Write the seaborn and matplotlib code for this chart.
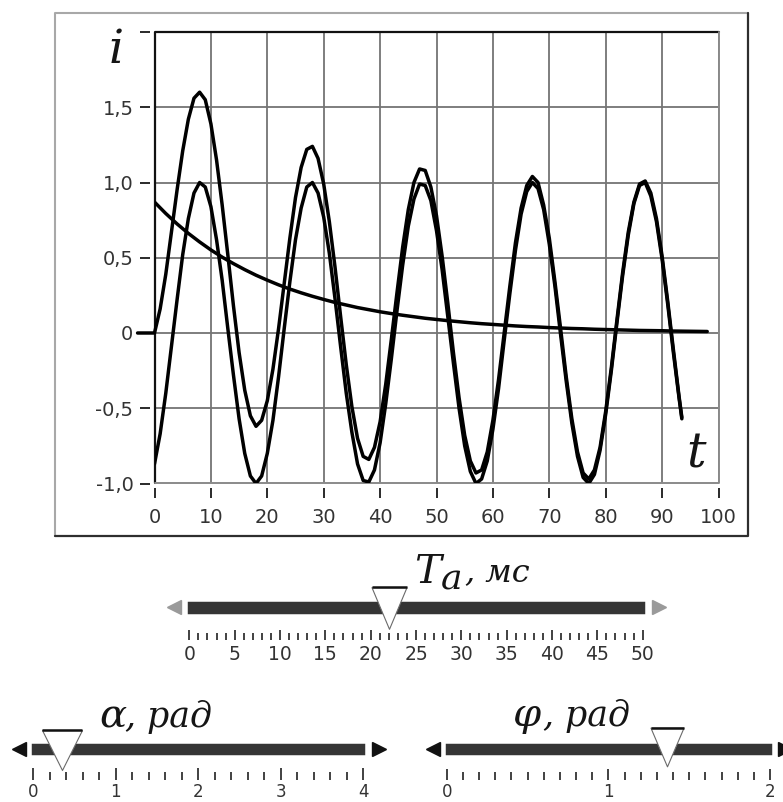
import matplotlib
matplotlib.use("Agg")
import matplotlib.pyplot as plt
import seaborn as sns
from matplotlib.lines import Line2D
from matplotlib.path import Path
from matplotlib.ticker import MultipleLocator
from matplotlib.transforms import offset_copy

# ---- current curves, i (p.u.) versus t (ms) ----
t_ms = list(range(94)) + [93.5]
i_steady = [-0.87, -0.67, -0.40, -0.09, 0.22, 0.52, 0.76, 0.93, 1.00, 0.97,
            0.84, 0.62, 0.35, 0.03, -0.28, -0.57, -0.80, -0.95, -1.00, -0.95,
            -0.80, -0.58, -0.29, 0.03, 0.34, 0.62, 0.83, 0.97, 1.00, 0.93,
            0.77, 0.53, 0.23, -0.09, -0.40, -0.66, -0.87, -0.98, -0.99, -0.91,
            -0.73, -0.47, -0.17, 0.15, 0.45, 0.71, 0.89, 0.99, 0.98, 0.88,
            0.68, 0.42, 0.11, -0.20, -0.50, -0.75, -0.92, -1.00, -0.97, -0.85,
            -0.64, -0.37, -0.05, 0.26, 0.55, 0.79, 0.94, 1.00, 0.96, 0.82,
            0.59, 0.31, -0.01, -0.32, -0.60, -0.82, -0.96, -1.00, -0.94, -0.78,
            -0.54, -0.25, 0.07, 0.38, 0.65, 0.86, 0.98, 1.00, 0.91, 0.74,
            0.49, 0.19, -0.13, -0.43, -0.57]

t_total = [-3] + t_ms
i_total = [0.00,
           0.00, 0.16, 0.39, 0.67, 0.95, 1.21, 1.42, 1.56, 1.60, 1.55,
           1.39, 1.15, 0.85, 0.52, 0.18, -0.13, -0.38, -0.55, -0.62, -0.58,
           -0.45, -0.24, 0.03, 0.33, 0.63, 0.90, 1.10, 1.22, 1.24, 1.16,
           0.99, 0.74, 0.44, 0.11, -0.21, -0.49, -0.70, -0.82, -0.84, -0.76,
           -0.59, -0.34, -0.04, 0.27, 0.57, 0.82, 1.00, 1.09, 1.08, 0.97,
           0.78, 0.51, 0.20, -0.13, -0.43, -0.68, -0.85, -0.93, -0.91, -0.79,
           -0.58, -0.31, 0.00, 0.31, 0.60, 0.83, 0.98, 1.04, 1.00, 0.85,
           0.63, 0.34, 0.03, -0.29, -0.57, -0.79, -0.93, -0.97, -0.91, -0.76,
           -0.52, -0.23, 0.09, 0.40, 0.67, 0.87, 0.99, 1.01, 0.93, 0.76,
           0.51, 0.21, -0.11, -0.42, -0.56]

t_aper = list(range(0, 100, 2))
i_aper = [0.870, 0.794, 0.725, 0.662, 0.605, 0.552, 0.504, 0.461, 0.421, 0.384,
          0.351, 0.320, 0.292, 0.267, 0.244, 0.223, 0.203, 0.186, 0.169, 0.155,
          0.141, 0.129, 0.118, 0.108, 0.098, 0.090, 0.082, 0.075, 0.068, 0.062,
          0.057, 0.052, 0.047, 0.043, 0.040, 0.036, 0.033, 0.030, 0.028, 0.025,
          0.023, 0.021, 0.019, 0.017, 0.016, 0.015, 0.013, 0.012, 0.011, 0.010]

x_ticks = [0, 10, 20, 30, 40, 50, 60, 70, 80, 90, 100]
x_tick_labels = ["0", "10", "20", "30", "40", "50", "60", "70", "80", "90", "100"]
y_ticks = [-1.0, -0.5, 0.0, 0.5, 1.0, 1.5, 2.0]
y_tick_labels = ["-1,0", "-0,5", "0", "0,5", "1,0", "1,5", ""]

# ---- slider controls ----
ta_value = 22
ta_ticks = [0, 5, 10, 15, 20, 25, 30, 35, 40, 45, 50]
ta_tick_labels = ["0", "5", "10", "15", "20", "25", "30", "35", "40", "45", "50"]
alpha_value = 0.35
alpha_ticks = [0, 1, 2, 3, 4]
alpha_tick_labels = ["0", "1", "2", "3", "4"]
phi_value = 1.36
phi_ticks = [0, 1, 2]
phi_tick_labels = ["0", "1", "2"]

sns.set_theme(style="white")
plt.rcParams["font.family"] = ["DejaVu Sans"]
SERIF = ["DejaVu Serif"]
INK = "#151515"

W, H = 783, 802
fig = plt.figure(figsize=(W / 100, H / 100), dpi=100)
fig.patch.set_facecolor("white")


def px_rect(x0, y0, x1, y1):
    return [x0 / W, 1 - y1 / H, (x1 - x0) / W, (y1 - y0) / H]


def px_pt(x, y):
    return x / W, 1 - y / H


def caption(x, y, s, size):
    fig.text(*px_pt(x, y), s, fontsize=size, family=SERIF, style="italic",
             color=INK, ha="left", va="baseline")


# sunken panel frame around the graph
fig.add_artist(Line2D([55 / W, 55 / W, 748 / W], [1 - 536 / H, 1 - 13 / H, 1 - 13 / H],
                      color="#a8a8a8", lw=1.5))
fig.add_artist(Line2D([55 / W, 748 / W, 748 / W], [1 - 536 / H, 1 - 536 / H, 1 - 13 / H],
                      color="#2e2e2e", lw=1.6))

# ---- graph ----
ax = fig.add_axes(px_rect(154.5, 32, 718.5, 483.5))
ax.set_facecolor("white")
sns.lineplot(x=t_aper, y=i_aper, ax=ax, color="black", linewidth=2.5)
sns.lineplot(x=t_ms, y=i_steady, ax=ax, color="black", linewidth=2.5)
sns.lineplot(x=t_total, y=i_total, ax=ax, color="black", linewidth=2.5, clip_on=False)

ax.set_xlim(0, 100)
ax.set_ylim(-1.0, 2.0)
ax.set_xticks(x_ticks, x_tick_labels)
ax.set_yticks(y_ticks, y_tick_labels)
ax.set_xlabel("")
ax.set_ylabel("")
ax.grid(True, color="#747474", linewidth=1.3)
ax.set_axisbelow(True)
for s in ax.spines.values():
    s.set_visible(False)
ax.spines["left"].set_position(("outward", 3.2))
ax.spines["bottom"].set_position(("outward", 2.9))
ax.tick_params(axis="both", bottom=True, left=True, direction="out", length=7,
               width=1.4, color="#2a2a2a", labelsize=14, labelcolor="#333333")
ax.tick_params(axis="x", pad=7.5)
ax.tick_params(axis="y", pad=5)
# plot-area border: dark upper-left edge, grey lower-right edge
ax.plot([0, 0, 1], [0, 1, 1], transform=ax.transAxes, color="#111111", lw=1.6,
        clip_on=False, zorder=1.5)
ax.plot([0, 1, 1], [0, 0, 1], transform=ax.transAxes, color="#8a8a8a", lw=1.4,
        clip_on=False, zorder=1.5)

caption(109, 63, "i", 34)
caption(686, 468, "t", 35)


# ---- sliders ----
def slider(rect, lo, hi, value, majors, major_labels, minor_step, track_y, track_h,
           ptr_y, ptr_w, ptr_h, arrow_color, arrow_gap, major_len, minor_len,
           label_size, pad):
    sax = fig.add_axes(px_rect(*rect))
    sax.set_xlim(lo, hi)
    sax.set_ylim(0, 1)
    sax.patch.set_alpha(0)
    for s in sax.spines.values():
        s.set_visible(False)
    sax.barh([track_y], [hi - lo], left=lo, height=track_h, color="#353535",
             edgecolor="#353535", linewidth=2.5, clip_on=False, zorder=2)
    left_t = offset_copy(sax.transData, fig=fig, x=-arrow_gap[0], y=0, units="dots")
    right_t = offset_copy(sax.transData, fig=fig, x=arrow_gap[1], y=0, units="dots")
    sax.plot([lo], [track_y], marker="<", ms=9.5, color=arrow_color,
             transform=left_t, clip_on=False, lw=0)
    sax.plot([hi], [track_y], marker=">", ms=9.5, color=arrow_color,
             transform=right_t, clip_on=False, lw=0)

    verts = [(-ptr_w / 2, ptr_h / 2), (ptr_w / 2, ptr_h / 2), (0, -ptr_h / 2),
             (-ptr_w / 2, ptr_h / 2)]
    tri = Path(verts, [Path.MOVETO, Path.LINETO, Path.LINETO, Path.CLOSEPOLY])
    top = Path(verts[:3], [Path.MOVETO, Path.LINETO, Path.MOVETO])
    ms = max(ptr_w, ptr_h) * 0.72
    sax.plot([value], [ptr_y], marker=tri, ms=ms, mfc="white", mec="#6a6a6a",
             mew=0.8, clip_on=False, zorder=4, lw=0)
    sax.plot([value], [ptr_y], marker=top, ms=ms, mfc="none", mec="#111111",
             mew=1.8, clip_on=False, zorder=5, lw=0)

    sax.set_xticks(majors, major_labels)
    sax.xaxis.set_minor_locator(MultipleLocator(minor_step))
    sax.set_yticks([])
    sax.tick_params(axis="x", which="major", bottom=True, direction="in",
                    length=major_len, width=1.3, color="#333333",
                    labelsize=label_size, labelcolor="#333333", pad=pad)
    sax.tick_params(axis="x", which="minor", bottom=True, direction="in",
                    length=minor_len, width=1.3, color="#333333")
    return sax


slider((189.3, 585, 642.7, 640), 0, 50, ta_value, ta_ticks, ta_tick_labels, 1,
       0.591, 0.167, 0.585, 35, 41.7, "#9a9a9a", (15, 16), 7.2, 5.0, 13.5, 3.8)
slider((33.3, 725, 363.3, 780), 0, 4, alpha_value, alpha_ticks, alpha_tick_labels, 0.2,
       0.569, 0.151, 0.545, 40, 40, "#111111", (14, 16), 9.0, 6.0, 12, 2.5)
slider((446.7, 725, 770, 780), 0, 2, phi_value, phi_ticks, phi_tick_labels, 0.1,
       0.569, 0.151, 0.594, 33, 38.7, "#111111", (14, 15), 8.0, 5.5, 12, 2.5)

# slider captions
caption(414, 583, "T", 29)
caption(441, 590, "a", 26)
caption(465, 581, ", мс", 23)
caption(99, 728, "α", 29)
caption(125, 727, ", рад", 25)
caption(512, 726, "φ", 29)
caption(543, 726, ", рад", 25)

fig.savefig("out.png", dpi=100, facecolor="white")
